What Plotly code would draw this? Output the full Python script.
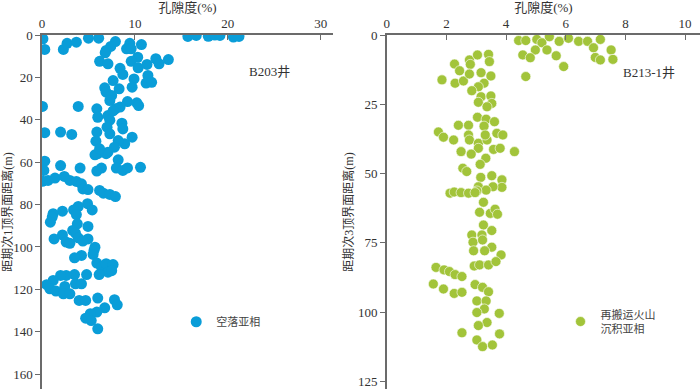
import plotly.graph_objects as go
from plotly.subplots import make_subplots

# B203井 孔隙度(%) / 距期次1顶界面距离(m)
b203_phi = [0.1, 0.3, 2.3, 2.7, 3.7, 5.0, 6.1, 7.9, 7.4, 6.9, 6.8, 9.45, 9.1, 9.6, 10.7,
            10.3, 9.6, 10.35, 11.3, 12.25, 12.6, 13.6, 6.2, 7.1, 8.4, 8.7, 11.4, 11.2, 11.8,
            9.9, 9.7, 7.65, 6.75, 8.3, 6.9, 7.5, 7.3, 9.2, 10.2, 10.4, 0.05, 3.9, 5.9, 6.0,
            8.4, 7.9, 7.1, 7.65, 7.3, 8.6, 7.0,
            15.7, 16.6, 17.9, 18.6, 19.15, 20.6, 21.2,
            0.3, 2.0, 3.2, 5.9, 7.3, 8.7, 9.7, 8.9, 8.2, 7.8, 7.1, 6.9, 6.0, 5.7, 5.8, 6.2,
            8.2, 8.0, 8.7, 9.2, 10.6, 6.4, 5.9, 4.1, 2.0, 0.3, 0.2, 0.05, 0.65, 1.4, 2.4,
            3.0, 3.7, 4.25, 4.4, 4.95, 6.2, 6.6, 7.3, 7.9, 4.9, 5.4, 3.9, 3.4, 3.7, 2.2,
            1.2, 1.1, 0.9, 3.8, 4.95, 3.3, 3.6, 2.2, 1.3, 2.6, 3.0, 3.9, 4.95, 4.4, 5.7, 5.6,
            4.25, 3.5, 5.5, 5.9, 6.4, 6.9, 7.65, 7.1, 7.5, 6.15, 4.8, 3.5, 2.6, 2.0, 1.2,
            0.5, 0.85, 1.5, 2.45, 2.3, 3.0, 3.6, 4.25, 4.0, 4.7, 6.0, 7.8, 8.1, 6.75, 5.9,
            5.2, 4.7, 5.3, 6.0]
b203_depth = [1.8, 6.8, 6.8, 3.9, 3.4, 1.5, 1.5, 3.1, 5.4, 7.3, 8.4, 3.9, 6.5, 6.5, 4.5,
              10.5, 12.4, 15.5, 13.9, 11.2, 13.6, 11.6, 12.4, 13.6, 15.7, 18.6, 19.1, 22.7, 22.3,
              20.7, 24.6, 21.5, 24.9, 25.4, 27.0, 28.5, 30.9, 31.4, 32.0, 33.3, 33.7, 33.7, 34.8, 38.8,
              34.0, 34.8, 38.0, 35.8, 40.2, 41.6, 43.5,
              0.7, 0.2, 0.6, 0.0, 0.2, 1.0, 0.7,
              46.1, 45.8, 46.9, 45.8, 46.6, 44.3, 48.2, 51.3, 49.8, 52.9, 55.3, 56.0, 56.0, 56.5, 50.1, 53.7,
              58.9, 62.8, 63.9, 62.7, 62.4, 62.8, 64.2, 62.8, 61.6, 59.5, 63.9, 69.0, 68.6, 67.5, 66.7,
              68.6, 69.1, 70.2, 72.6, 72.9, 73.3, 74.6, 75.2, 76.2, 79.6, 82.5, 80.9, 82.5, 84.7, 83.1,
              84.3, 85.9, 88.3, 89.1, 90.3, 92.2, 93.5, 94.3, 96.2, 97.7, 98.3, 95.7, 96.2, 97.2, 100.1, 101.6,
              104.0, 105.1, 103.5, 107.6, 109.5, 107.9, 108.3, 111.9, 111.2, 113.0, 113.0, 113.0, 113.4, 113.4, 115.8,
              117.8, 119.7, 120.8, 118.6, 122.1, 122.1, 117.4, 117.4, 125.2, 125.2, 124.1, 124.9, 127.3, 128.7, 130.7,
              131.5, 133.6, 134.7, 138.6]

# B213-1井 孔隙度(%) / 距期次3顶界面距离(m)
b213_phi = [4.42, 4.66, 5.03, 5.2, 5.45, 5.78, 6.09, 6.43, 6.73, 7.16, 6.93, 7.52, 7.58, 6.99,
            7.16, 5.37, 4.98, 4.56, 4.81, 5.68, 5.93, 4.66, 1.85, 2.27, 2.44, 2.29, 2.57, 2.77,
            3.04, 2.8, 2.77, 3.16, 3.41, 3.44, 3.49, 3.26, 3.07, 2.85, 3.16, 3.07, 3.49, 3.52,
            3.36, 3.04, 3.33, 3.61, 3.26, 2.40, 2.74, 1.73, 1.9, 2.24, 2.74, 2.77, 3.07, 3.07,
            3.36, 3.3, 3.69, 3.89, 3.58, 3.8, 4.28, 2.49, 2.83, 3.32, 3.13, 2.55, 2.68, 3.15,
            3.52, 3.86, 3.86, 3.56, 3.07, 3.33, 3.02, 2.12, 2.26, 2.49, 2.74, 2.96, 3.24, 3.11,
            3.47, 3.63, 3.71, 3.24, 3.52, 2.85, 3.19, 2.89, 3.21, 3.52, 2.91, 3.28, 3.83, 1.65,
            1.92, 2.1, 2.29, 2.52, 2.93, 3.11, 3.41, 3.66, 1.56, 1.9, 2.26, 2.52, 2.96, 3.21,
            3.41, 3.02, 3.33, 3.27, 3.02, 3.77, 3.36, 3.07, 2.52, 3.78, 3.02, 3.21, 3.54]
b213_depth = [2.0, 2.0, 1.6, 2.8, 0.6, 2.3, 1.2, 2.3, 2.3, 1.6, 4.6, 5.4, 8.8, 8.1,
              9.0, 5.4, 5.4, 7.2, 8.2, 7.5, 11.4, 15.0, 16.2, 10.5, 12.9, 17.4, 16.6, 9.0,
              7.2, 10.6, 14.1, 13.6, 7.0, 9.6, 14.8, 17.4, 18.7, 20.1, 22.3, 24.3, 22.0, 24.7,
              25.9, 29.7, 30.4, 31.3, 32.9, 32.6, 32.6, 35.0, 36.9, 37.9, 36.1, 37.9, 39.1, 40.9,
              37.9, 36.1, 35.5, 36.1, 41.3, 40.9, 42.1, 42.1, 43.0, 44.5, 46.7, 48.1, 49.3, 51.4,
              50.8, 52.3, 55.0, 54.8, 54.8, 56.0, 56.3, 57.1, 56.7, 56.9, 57.1, 56.9, 60.4, 64.0,
              64.4, 62.9, 64.7, 68.6, 70.6, 72.2, 72.2, 74.8, 74.0, 76.6, 77.9, 77.9, 79.4, 83.9,
              84.8, 85.4, 86.5, 87.2, 83.4, 83.0, 83.0, 81.8, 89.9, 91.7, 93.3, 92.9, 90.1, 91.1,
              92.7, 96.0, 96.0, 98.9, 100.2, 100.5, 103.8, 104.9, 107.5, 107.9, 110.1, 112.5, 111.9]

BLUE = '#0A9DD8'
GREEN = '#A2C43A'
AXIS = '#6b6b6b'
SERIF = 'Liberation Serif, Times New Roman, Noto Sans CJK SC, serif'

fig = make_subplots(rows=1, cols=2, horizontal_spacing=0.08)

fig.add_trace(go.Scatter(
    x=b203_phi, y=b203_depth, mode='markers', name='空落亚相',
    marker=dict(color=BLUE, size=11, line=dict(width=0)),
    legend='legend', showlegend=True,
), row=1, col=1)
fig.add_trace(go.Scatter(
    x=b213_phi, y=b213_depth, mode='markers', name='再搬运火山<br>沉积亚相',
    marker=dict(color=GREEN, size=10, line=dict(color='white', width=0.6)),
    legend='legend2', showlegend=True,
), row=1, col=2)

xax = dict(side='top', showline=True, linecolor=AXIS, linewidth=1.5, mirror=False,
           ticks='inside', ticklen=5, tickcolor=AXIS, showgrid=False, zeroline=False,
           automargin=False,
           tickfont=dict(family=SERIF, size=13, color='#333'),
           title_font=dict(family=SERIF, size=13, color='#333'), title_standoff=2)
yax = dict(autorange=False, showline=True, linecolor=AXIS, linewidth=1.5,
           ticks='outside', ticklen=5, tickcolor=AXIS, showgrid=False, zeroline=False,
           automargin=False,
           tickfont=dict(family=SERIF, size=13, color='#333'),
           title_font=dict(family=SERIF, size=12, color='#333'), title_standoff=2)

fig.update_xaxes(**xax)
fig.update_yaxes(**yax)
fig.update_xaxes(title_text='孔隙度(%)', range=[0, 31.3], tickvals=[0, 10, 20, 30],
                 domain=[0, 0.442], row=1, col=1)
fig.update_xaxes(title_text='孔隙度(%)', range=[0, 10.5], tickvals=[0, 2, 4, 6, 8, 10],
                 domain=[0.524, 1], row=1, col=2)
fig.update_yaxes(title_text='距期次1顶界面距离(m)', range=[167, 0],
                 tickvals=[0, 20, 40, 60, 80, 100, 120, 140, 160], row=1, col=1)
fig.update_yaxes(title_text='距期次3顶界面距离(m)', range=[127.8, 0],
                 tickvals=[0, 25, 50, 75, 100, 125], row=1, col=2)

fig.add_annotation(text='B203井', x=0.345, y=0.923, xref='paper', yref='paper',
                   showarrow=False, xanchor='center',
                   font=dict(family=SERIF, size=13, color='#333'))
fig.add_annotation(text='B213-1井', x=0.922, y=0.921, xref='paper', yref='paper',
                   showarrow=False, xanchor='center',
                   font=dict(family=SERIF, size=13, color='#333'))

legend_style = dict(bgcolor='rgba(0,0,0,0)', borderwidth=0,
                    font=dict(family=SERIF, size=11, color='#444'),
                    itemsizing='trace', yanchor='middle', xanchor='left')
fig.update_layout(
    template='simple_white',
    width=700, height=389,
    margin=dict(l=42, r=0, t=35, b=0),
    plot_bgcolor='white', paper_bgcolor='white',
    showlegend=True,
    legend=dict(x=0.204, y=0.19, **legend_style),
    legend2=dict(x=0.788, y=0.19, **legend_style),
)

fig.write_html('out.html', config={'displayModeBar': False},
               post_script="document.body.style.margin='0';")
